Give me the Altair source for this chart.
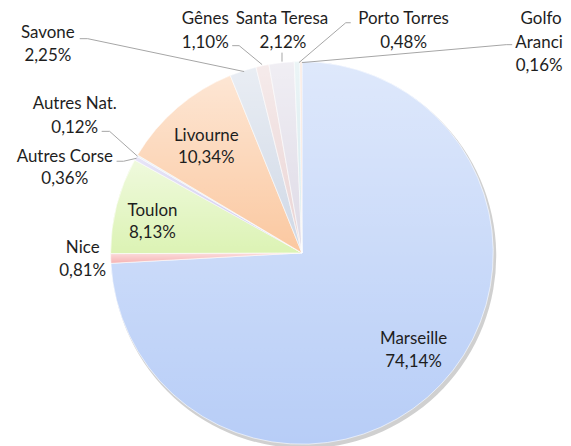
import altair as alt
import pandas as pd

# ---- data ----
ports = ["Marseille", "Nice", "Toulon", "Autres Corse", "Autres Nat.", "Livourne",
         "Savone", "Gênes", "Santa Teresa", "Porto Torres", "Golfo Aranci"]
shares = [74.14, 0.81, 8.13, 0.36, 0.12, 10.34, 2.25, 1.10, 2.12, 0.48, 0.16]
pct_labels = ["74,14%", "0,81%", "8,13%", "0,36%", "0,12%", "10,34%",
              "2,25%", "1,10%", "2,12%", "0,48%", "0,16%"]

# ---- styling ----
colors = ["#b7cdf7", "#f6b3b3", "#dcf3b4", "#cbc6ee", "#cfe0f2", "#fbc8a0",
          "#cfd8e6", "#ead3d3", "#dedae6", "#d3e8ec", "#f6d0bd"]
FONT = "Lato"
CX, CY, R = 295, 245, 192

df = pd.DataFrame({"port": ports, "share": shares, "idx": list(range(len(ports)))})

# label layout (annotation placement, like Excel's manually placed labels)
label_layout = {
    "Marseille": [(407, 331, "Marseille"), (407, 355, None)],
    "Nice": [(75, 240, "Nice"), (75, 263, None)],
    "Toulon": [(145, 203, "Toulon"), (145, 225, None)],
    "Autres Corse": [(57, 149, "Autres Corse"), (57, 171, None)],
    "Autres Nat.": [(67, 96, "Autres Nat."), (67, 120, None)],
    "Livourne": [(199, 128, "Livourne"), (199, 150, None)],
    "Savone": [(40, 24, "Savone"), (40, 47, None)],
    "Gênes": [(198, 10, "Gênes"), (198, 34, None)],
    "Santa Teresa": [(275, 10, "Santa Teresa"), (276, 34, None)],
    "Porto Torres": [(397, 10, "Porto Torres"), (397, 34, None)],
    "Golfo Aranci": [(535, 10, "Golfo"), (533, 34, "Aranci"), (533, 57, None)],
}
rows = []
for p, pl in zip(ports, pct_labels):
    for (x, y, t) in label_layout[p]:
        rows.append({"x": x, "y": y, "text": t if t is not None else pl})
labels = pd.DataFrame(rows)

leaders = {
    "Savone": [(72, 30), (80, 30), (237, 63)],
    "Gênes": [(225, 37), (232, 37), (255, 56)],
    "Santa Teresa": [(275, 44), (275, 53)],
    "Porto Torres": [(344, 14), (339, 14), (292, 54)],
    "Golfo Aranci": [(506, 36), (500, 36), (295, 54)],
    "Autres Nat.": [(94, 123), (102, 123), (130, 148)],
    "Autres Corse": [(109, 153), (116, 153), (129, 150)],
}
lrows = []
for k, pts in leaders.items():
    for i, (x, y) in enumerate(pts):
        lrows.append({"g": k, "i": i, "x": x, "y": y})
lines = pd.DataFrame(lrows)

theta = alt.Theta("share:Q", stack=True)
order = alt.Order("idx:Q", sort="ascending")

shadow = alt.Chart(df).mark_arc(outerRadius=R + 1, fill="#c4c4c4", opacity=0.8).encode(
    theta=theta, order=order, x=alt.value(CX + 2), y=alt.value(CY + 3)
)

pie = alt.Chart(df).mark_arc(outerRadius=R, stroke="white", strokeWidth=0.6).encode(
    theta=theta, order=order,
    color=alt.Color("port:N", scale=alt.Scale(domain=ports, range=colors), legend=None),
    x=alt.value(CX), y=alt.value(CY),
)

grad = alt.Gradient(
    gradient="linear", x1=0, y1=0, x2=0, y2=1,
    stops=[alt.GradientStop(color="rgba(255,255,255,0.55)", offset=0),
           alt.GradientStop(color="rgba(255,255,255,0.0)", offset=1)],
)
shine = alt.Chart(df).mark_arc(outerRadius=R, fill=grad, strokeWidth=0).encode(
    theta=theta, order=order, x=alt.value(CX), y=alt.value(CY)
)

leader_lines = alt.Chart(lines).mark_line(color="#a6a6a6", strokeWidth=1).encode(
    x=alt.X("x:Q", scale=None), y=alt.Y("y:Q", scale=None),
    detail="g:N", order="i:Q",
)

text = alt.Chart(labels).mark_text(font=FONT, fontSize=17, color="#1e1e1e",
                                   align="center", baseline="middle").encode(
    x=alt.X("x:Q", scale=None), y=alt.Y("y:Q", scale=None), text="text:N"
)

chart = alt.layer(shadow, pie, shine, leader_lines, text).properties(
    width=555, height=430, padding=0
).configure_view(stroke=None)

chart.save("out.html", embed_options={"renderer": "svg", "actions": False})
